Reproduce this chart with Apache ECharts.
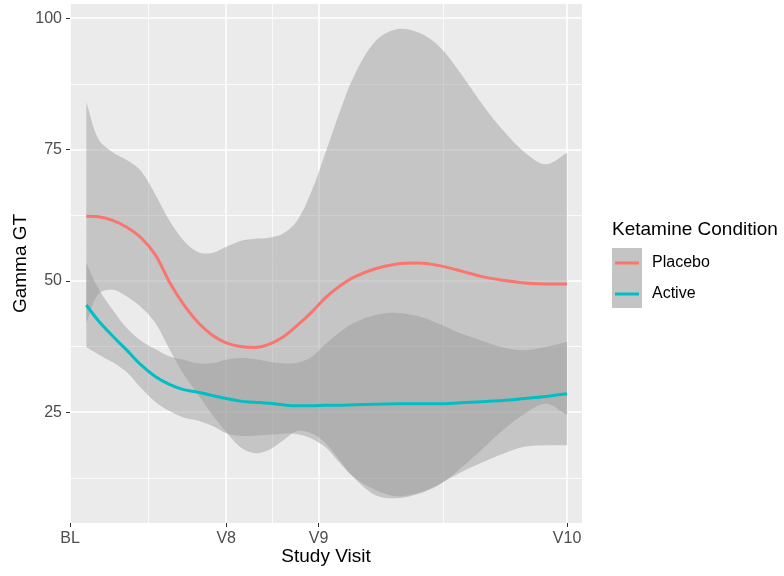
<!DOCTYPE html>
<html>
<head>
<meta charset="utf-8">
<script src="https://cdn.jsdelivr.net/npm/echarts@6/dist/echarts.min.js"></script>
<style>
  html, body { margin: 0; padding: 0; background: #fff; }
  #chart { width: 784px; height: 576px; }
</style>
</head>
<body>
<div id="chart"></div>
<script>
// study day of each smoothed point (BL = 0, V8 = 22, V9 = 35, V10 = 70)
const days = [2.3, 4, 6, 8, 10, 12, 14, 16, 18, 20, 22, 24, 26, 28, 30, 32, 34, 36, 38, 40, 43, 46, 49, 52, 55, 58, 61, 64, 67, 70]
const visitTicks = [0, 22, 35, 70]
const visitLabels = ['BL', 'V8', 'V9', 'V10']
const minorX = [11, 28.5, 52.5]
const yTicks = [25, 50, 75, 100]
const minorY = [12.5, 37.5, 62.5, 87.5]

// Placebo smooth + ribbon
const placeboFit = [62.3, 62.2, 61.5, 60.2, 58.2, 55.0, 49.8, 45.5, 42.1, 39.7, 38.2, 37.5, 37.3, 37.9, 39.3, 41.5, 44.0, 46.8, 49.0, 50.7, 52.3, 53.2, 53.4, 52.9, 51.9, 50.8, 50.1, 49.6, 49.4, 49.4]
const placeboUpper = [84.0, 77.0, 74.5, 73.0, 70.9, 66.5, 61.5, 57.7, 55.5, 55.3, 56.5, 57.6, 58.0, 58.2, 59.0, 61.5, 67.0, 74.5, 82.2, 89.0, 95.6, 97.9, 97.3, 94.6, 89.5, 83.7, 78.6, 74.5, 72.2, 74.4]
const placeboLower = [42.0, 47.5, 48.3, 47.0, 45.0, 42.0, 37.0, 32.2, 28.4, 24.6, 21.2, 18.3, 17.2, 17.8, 19.6, 21.4, 21.0, 19.1, 15.8, 12.5, 9.2, 8.6, 9.4, 11.2, 14.3, 17.9, 21.6, 24.7, 26.6, 24.5]

// Active smooth + ribbon
const activeFit = [45.4, 42.4, 39.5, 36.8, 34.0, 31.8, 30.3, 29.3, 28.8, 28.2, 27.6, 27.1, 26.9, 26.7, 26.4, 26.2, 26.2, 26.3, 26.3, 26.4, 26.5, 26.6, 26.6, 26.6, 26.8, 27.0, 27.2, 27.6, 28.0, 28.5]
const activeUpper = [53.4, 48.5, 44.5, 41.0, 38.6, 37.0, 35.6, 35.0, 34.3, 34.3, 35.0, 35.3, 35.1, 34.6, 34.3, 34.4, 35.5, 38.0, 40.2, 42.0, 43.5, 43.9, 43.3, 41.8, 40.0, 38.6, 37.3, 36.8, 37.4, 38.4]
const activeLower = [37.4, 36.0, 34.5, 32.6, 29.6, 27.0, 25.2, 24.0, 23.4, 22.4, 21.0, 20.5, 20.5, 20.7, 20.9, 20.8, 20.0, 18.3, 15.3, 12.6, 10.2, 9.0, 9.6, 11.3, 13.5, 15.4, 17.1, 18.4, 18.7, 18.7]

const FONT = '"Liberation Sans", Arial, sans-serif'
const BAND = 'rgba(150, 150, 150, 0.45)'
const RED = '#F8766D'
const TEAL = '#00BFC4'
const SMOOTH = 0.35

const pairs = (ys) => days.map((d, i) => [d, ys[i]])

// ribbon drawn as one smoothed polygon: upper edge out, lower edge back
// (corner points doubled so the ends stay straight)
const ribbon = (lo, hi, extra) => Object.assign({
  type: 'custom',
  data: days.map((d, i) => [d, lo[i], hi[i]]),
  encode: { x: 0, y: [1, 2] },
  silent: true,
  z: 2,
  renderItem: (params, api) => {
    if (params.dataIndex !== 0) return null
    const n = days.length
    const top = []
    const bottom = []
    for (let i = 0; i < n; i++) {
      top.push(api.coord([api.value(0, i), api.value(2, i)]))
      bottom.push(api.coord([api.value(0, i), api.value(1, i)]))
    }
    bottom.reverse()
    const pts = [top[0], ...top, top[n - 1], bottom[0], ...bottom, bottom[n - 1]]
    return {
      type: 'polygon',
      shape: { points: pts, smooth: SMOOTH },
      style: { fill: BAND }
    }
  }
}, extra || {})

const chart = echarts.init(document.getElementById('chart'))

const option = {
  animation: false,
  grid: {
    left: 70,
    right: 202,
    top: 4,
    bottom: 53,
    show: true,
    backgroundColor: '#EBEBEB',
    borderWidth: 0,
    outerBoundsMode: 'none'
  },
  xAxis: {
    type: 'value',
    min: 0,
    max: 72.1,
    axisLine: { show: false },
    axisTick: { show: true, length: 4, customValues: visitTicks, lineStyle: { color: '#333', width: 1 } },
    axisLabel: {
      customValues: visitTicks,
      showMinLabel: true,
      showMaxLabel: true,
      formatter: (v) => visitLabels[visitTicks.indexOf(v)],
      color: '#4D4D4D',
      fontSize: 16,
      fontFamily: FONT,
      margin: 8
    },
    splitLine: { show: true, lineStyle: { color: '#fff', width: 1.6 } },
    name: 'Study Visit',
    nameLocation: 'middle',
    nameMoveOverlap: false,
    nameGap: 24,
    nameTextStyle: { color: '#000', fontSize: 19, fontFamily: FONT }
  },
  yAxis: {
    type: 'value',
    min: 3.9,
    max: 102.7,
    axisLine: { show: false },
    axisTick: { show: true, length: 4, customValues: yTicks, lineStyle: { color: '#333', width: 1 } },
    axisLabel: {
      customValues: yTicks,
      color: '#4D4D4D',
      fontSize: 16,
      fontFamily: FONT,
      margin: 8
    },
    splitLine: { show: true, lineStyle: { color: '#fff', width: 1.6 } },
    name: 'Gamma GT',
    nameLocation: 'middle',
    nameMoveOverlap: false,
    nameGap: 40,
    nameTextStyle: { color: '#000', fontSize: 19, fontFamily: FONT }
  },
  series: [
    ribbon(placeboLower, placeboUpper, {
      markLine: {
        silent: true,
        symbol: 'none',
        z: 1,
        label: { show: false },
        lineStyle: { color: '#fff', width: 0.8, type: 'solid' },
        data: [...minorX.map((v) => ({ xAxis: v })), ...minorY.map((v) => ({ yAxis: v }))]
      }
    }),
    ribbon(activeLower, activeUpper),
    {
      type: 'line',
      name: 'Placebo',
      data: pairs(placeboFit),
      smooth: SMOOTH,
      showSymbol: false,
      silent: true,
      lineStyle: { color: RED, width: 3 },
      z: 3
    },
    {
      type: 'line',
      name: 'Active',
      data: pairs(activeFit),
      smooth: SMOOTH,
      showSymbol: false,
      silent: true,
      lineStyle: { color: TEAL, width: 3 },
      z: 3
    }
  ],
  // ggplot-style legend: grey keys with a coloured line
  graphic: [
    {
      type: 'text',
      left: 612,
      top: 220,
      style: { text: 'Ketamine Condition', fill: '#000', font: '19px ' + FONT }
    },
    { type: 'rect', left: 612, top: 248, shape: { width: 30, height: 30 }, style: { fill: '#C4C4C4' } },
    { type: 'rect', left: 612, top: 278, shape: { width: 30, height: 30 }, style: { fill: '#C4C4C4' } },
    { type: 'line', shape: { x1: 615, y1: 263, x2: 639, y2: 263 }, style: { stroke: RED, lineWidth: 3 } },
    { type: 'line', shape: { x1: 615, y1: 294, x2: 639, y2: 294 }, style: { stroke: TEAL, lineWidth: 3 } },
    {
      type: 'text',
      left: 652,
      top: 255,
      style: { text: 'Placebo', fill: '#000', font: '16px ' + FONT }
    },
    {
      type: 'text',
      left: 652,
      top: 286,
      style: { text: 'Active', fill: '#000', font: '16px ' + FONT }
    }
  ]
}

chart.setOption(option)
</script>
</body>
</html>
